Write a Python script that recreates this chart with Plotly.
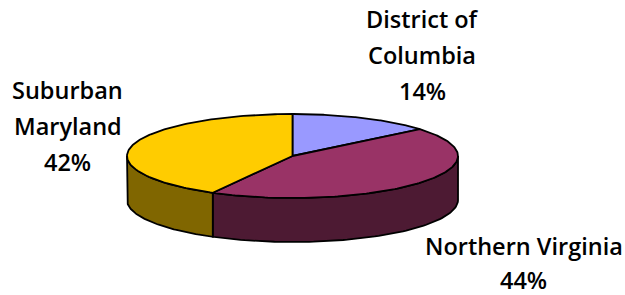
import numpy as np
import plotly.graph_objects as go

# ---- data ----
categories = ["District of Columbia", "Northern Virginia", "Suburban Maryland"]
values = [14, 44, 42]
top_colors = ["#9999FF", "#993366", "#FFCC00"]
side_colors = ["#4D4D80", "#4D1A33", "#806600"]
label_lines = [["District of", "Columbia", "14%"],
               ["Northern Virginia", "44%"],
               ["Suburban", "Maryland", "42%"]]

# ---- geometry (pixel-like data space) ----
W, H = 625, 295
cx, cy, rx, ry, depth = 292.5, 156.0, 165.5, 42.0, 44.0

def pt(theta_deg, dy=0.0):
    t = np.radians(theta_deg)
    return cx + rx * np.cos(t), cy - ry * np.sin(t) + dy

total = float(sum(values))
starts, ends = [], []
a = 90.0
for v in values:
    starts.append(a)
    a -= 360.0 * v / total
    ends.append(a)

fig = go.Figure()
line = dict(color="black", width=1.8)

# sides (front half: theta in [-180, 0])
for s, e, col in zip(starts, ends, side_colors):
    lo, hi = e, s
    for shift in (0, 360, -360):
        l2, h2 = lo + shift, hi + shift
        a1, a2 = max(l2, -180.0), min(h2, 0.0)
        if a2 > a1:
            ts = np.linspace(a2, a1, 80)
            xs_t, ys_t = pt(ts)
            xs_b, ys_b = pt(ts[::-1], depth)
            xs = np.concatenate([xs_t, xs_b, xs_t[:1]])
            ys = np.concatenate([ys_t, ys_b, ys_t[:1]])
            fig.add_trace(go.Scatter(x=xs, y=ys, mode="lines", fill="toself",
                                     fillcolor=col, line=line, hoverinfo="skip",
                                     showlegend=False))

# top faces
for s, e, col in zip(starts, ends, top_colors):
    ts = np.linspace(s, e, 150)
    xa, ya = pt(ts)
    xs = np.concatenate([[cx], xa, [cx]])
    ys = np.concatenate([[cy], ya, [cy]])
    fig.add_trace(go.Scatter(x=xs, y=ys, mode="lines", fill="toself",
                             fillcolor=col, line=line, hoverinfo="skip",
                             showlegend=False))

# labels
label_pos = [(422, 18.5), (523.5, 245.5), (67.5, 90)]
label_spacing = [36, 34.5, 36]
font = dict(family="Open Sans", size=23.5, color="black", weight=600)
for lines, (lx, ly), sp in zip(label_lines, label_pos, label_spacing):
    for i, t in enumerate(lines):
        fig.add_annotation(x=lx, y=ly + i * sp, text=t, showarrow=False,
                           xref="x", yref="y", font=font,
                           xanchor="center", yanchor="middle")

fig.update_layout(
    width=W, height=H,
    margin=dict(l=0, r=0, t=0, b=0),
    paper_bgcolor="white", plot_bgcolor="white",
    xaxis=dict(range=[0, W], visible=False, fixedrange=True),
    yaxis=dict(range=[H, 0], visible=False, fixedrange=True),
    showlegend=False,
)

fig.write_html("out.html", config={"displayModeBar": False},
               post_script="document.body.style.margin='0';document.body.style.padding='0';document.body.style.overflow='hidden';")
